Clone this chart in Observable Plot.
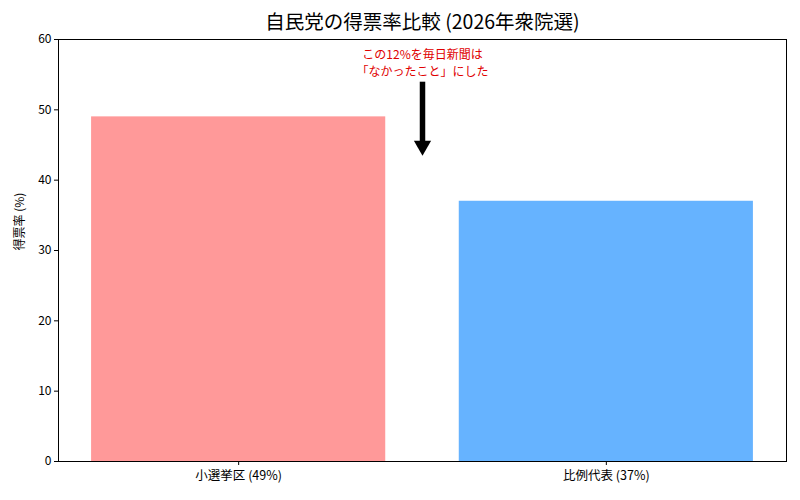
<!DOCTYPE html>
<html>
<head>
<meta charset="utf-8">
<script src="https://cdn.jsdelivr.net/npm/d3@7"></script>
<script src="https://cdn.jsdelivr.net/npm/@observablehq/plot@0.6"></script>
<style>
  html, body { margin: 0; padding: 0; background: #fff; }
  #chart svg { display: block; }
</style>
</head>
<body>
<div id="chart"></div>
<script>
const categories = ["小選挙区 (49%)", "比例代表 (37%)"];
const values = [49, 37];
const colors = ["#ff9999", "#66b3ff"];
const yTicks = [0, 10, 20, 30, 40, 50, 60];
const titleText = "自民党の得票率比較 (2026年衆院選)";
const yLabel = "得票率 (%)";
const noteLines = ["この12%を毎日新聞は", "「なかったこと」にした"];
const arrowX = 0.5, arrowFrom = 54, arrowTo = 43.5;

const bars = categories.map((c, i) => ({i, category: c, value: values[i], color: colors[i]}));
const font = "'Noto Sans CJK JP', 'Noto Sans', sans-serif";

const chart = Plot.plot({
  width: 800,
  height: 500,
  marginLeft: 58,
  marginRight: 14,
  marginTop: 39,
  marginBottom: 39,
  style: {fontFamily: font, fontSize: "12px", color: "#000", background: "#fff"},
  x: {domain: [-0.49, 1.49], axis: null},
  y: {domain: [0, 60], axis: null},
  marks: [
    Plot.rect(bars, {x1: d => d.i - 0.4, x2: d => d.i + 0.4, y1: 0, y2: "value", fill: "color"}),
    Plot.frame({stroke: "#000", strokeWidth: 1}),
    Plot.axisY({ticks: yTicks, tickSize: 4, tickPadding: 3, label: null, stroke: "#000", fontSize: 12}),
    Plot.axisX({ticks: [0, 1], tickFormat: i => categories[i], tickSize: 4, tickPadding: 6, label: null, stroke: "#000", fontSize: 12.5}),
    Plot.text([yLabel], {frameAnchor: "left", dx: -38, rotate: -90, fontSize: 12, fill: "#000"}),
    Plot.text([titleText], {frameAnchor: "top", lineAnchor: "middle", dy: -17, fontSize: 19.5, fill: "#000"}),
    Plot.link([{}], {x1: arrowX, x2: arrowX, y1: arrowFrom, y2: arrowTo + 2, stroke: "#000", strokeWidth: 5.5, strokeLinecap: "butt"}),
    Plot.dot([{}], {x: arrowX, y: arrowTo, symbol: "triangle", r: 6.4, rotate: 180, fill: "#000", stroke: "none", dy: -9.8}),
    Plot.text([noteLines[0]], {x: arrowX, y: arrowFrom, lineAnchor: "middle", dy: -27, fill: "#e00000", fontSize: 12}),
    Plot.text([noteLines[1]], {x: arrowX, y: arrowFrom, lineAnchor: "middle", dy: -10, fill: "#e00000", fontSize: 12})
  ]
});
document.getElementById("chart").appendChild(chart);
</script>
</body>
</html>
